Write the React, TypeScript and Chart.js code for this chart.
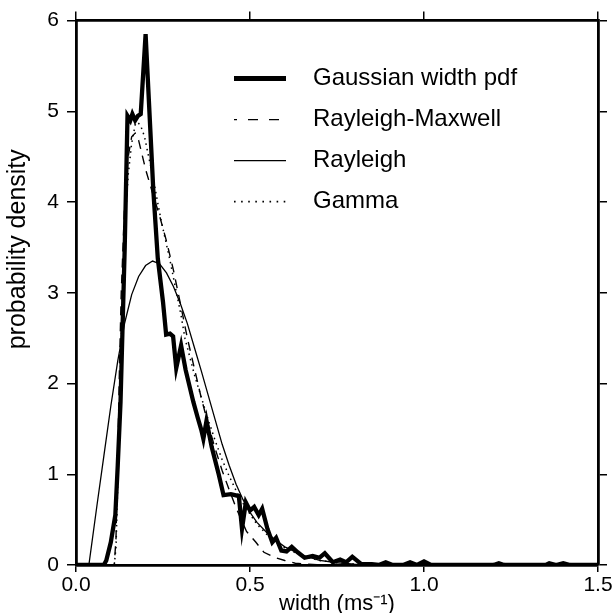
import React, { useEffect, useRef } from "react";
import { Chart, registerables } from "chart.js";

Chart.register(...registerables);

const FONT = "'Liberation Sans', Arial, Helvetica, sans-serif";

// Axis ranges / ticks
const xMin = 0;
const xMax = 1.5;
const xStep = 0.5;
const yMin = 0;
const yMax = 6;
const yStep = 1;

const xTitle = "width (ms\u207B\u00B9)";
const yTitle = "probability density";

const seriesNames = ["Gaussian width pdf", "Rayleigh-Maxwell", "Rayleigh", "Gamma"];

// Gaussian width pdf (thick, jagged)
const gaussX = [0, 0.08, 0.087, 0.1, 0.113, 0.12, 0.128, 0.14, 0.148, 0.156, 0.162, 0.17, 0.178, 0.186, 0.2, 0.222, 0.235, 0.25, 0.259, 0.27, 0.279, 0.288, 0.302, 0.315, 0.337, 0.35, 0.36, 0.366, 0.375, 0.39, 0.41, 0.424, 0.445, 0.468, 0.477, 0.488, 0.5, 0.512, 0.525, 0.535, 0.55, 0.564, 0.575, 0.59, 0.605, 0.62, 0.637, 0.657, 0.68, 0.7, 0.715, 0.738, 0.759, 0.776, 0.794, 0.82, 0.85, 0.87, 0.89, 0.91, 0.94, 0.96, 0.98, 1.0, 1.02, 1.2, 1.215, 1.23, 1.35, 1.36, 1.38, 1.4, 1.42, 1.5];
const gaussY = [0, 0, 0.05, 0.25, 0.55, 1.1, 1.8, 3.5, 4.95, 4.9, 4.97, 4.9, 4.95, 4.97, 5.85, 4.14, 3.38, 2.9, 2.54, 2.55, 2.52, 2.17, 2.42, 2.15, 1.8, 1.62, 1.49, 1.39, 1.59, 1.3, 1.0, 0.77, 0.78, 0.76, 0.4, 0.69, 0.6, 0.64, 0.55, 0.62, 0.4, 0.25, 0.3, 0.16, 0.15, 0.2, 0.14, 0.08, 0.1, 0.08, 0.13, 0.03, 0.06, 0.03, 0.09, 0.01, 0.01, 0, 0.03, 0, 0, 0.03, 0, 0.04, 0, 0, 0.02, 0, 0, 0.02, 0, 0.02, 0, 0];

// Rayleigh-Maxwell (dashed)
const rmX = [0, 0.11, 0.115, 0.12, 0.125, 0.13, 0.14, 0.15, 0.16, 0.17, 0.18, 0.19, 0.2, 0.22, 0.24, 0.26, 0.28, 0.3, 0.32, 0.34, 0.36, 0.38, 0.4, 0.42, 0.44, 0.46, 0.49, 0.517, 0.54, 0.57, 0.6, 0.63, 0.7, 1.5];
const rmY = [0, 0, 0.3, 1.2, 2.2, 3.0, 4.0, 4.5, 4.72, 4.76, 4.68, 4.52, 4.36, 4.1, 3.85, 3.57, 3.25, 2.88, 2.5, 2.17, 1.84, 1.55, 1.28, 1.04, 0.83, 0.63, 0.37, 0.25, 0.14, 0.085, 0.05, 0.02, 0, 0];

// Rayleigh (thin solid)
const rayX = [0, 0.037, 0.06, 0.08, 0.1, 0.12, 0.14, 0.16, 0.18, 0.2, 0.22, 0.24, 0.26, 0.28, 0.3, 0.32, 0.34, 0.36, 0.38, 0.4, 0.42, 0.44, 0.46, 0.48, 0.5, 0.52, 0.55, 0.575, 0.6, 0.65, 0.7, 0.75, 0.8, 0.9, 1.5];
const rayY = [0, 0, 0.65, 1.2, 1.75, 2.25, 2.67, 2.98, 3.18, 3.3, 3.35, 3.32, 3.22, 3.07, 2.88, 2.66, 2.4, 2.14, 1.87, 1.6, 1.33, 1.1, 0.89, 0.72, 0.58, 0.47, 0.35, 0.27, 0.2, 0.11, 0.05, 0.025, 0.01, 0, 0];

// Gamma (dotted)
const gamX = [0, 0.11, 0.115, 0.12, 0.13, 0.14, 0.15, 0.16, 0.17, 0.177, 0.186, 0.197, 0.206, 0.22, 0.235, 0.245, 0.27, 0.284, 0.302, 0.313, 0.34, 0.36, 0.38, 0.4, 0.42, 0.44, 0.46, 0.48, 0.5, 0.52, 0.55, 0.6, 0.65, 0.7, 0.75, 0.8, 0.9, 1.5];
const gamY = [0, 0, 0.2, 0.9, 2.5, 3.7, 4.3, 4.65, 4.85, 4.88, 4.84, 4.72, 4.55, 4.3, 3.99, 3.79, 3.36, 3.09, 2.75, 2.5, 2.1, 1.85, 1.6, 1.37, 1.16, 0.98, 0.82, 0.68, 0.56, 0.45, 0.33, 0.19, 0.1, 0.05, 0.025, 0.01, 0, 0];

const pairs = (xs: number[], ys: number[]) => xs.map((x, i) => ({ x, y: ys[i] }));

const legendPlugin = {
  id: "inlineLegend",
  afterDatasetsDraw(chart: any) {
    const ctx = chart.ctx as CanvasRenderingContext2D;
    const { left, top, bottom } = chart.chartArea;
    ctx.save();
    ctx.font = `24px ${FONT}`;
    ctx.fillStyle = "#000";
    ctx.textBaseline = "middle";
    chart.data.datasets.forEach((ds: any, i: number) => {
      const y = top + 58 + i * 41;
      const x0 = left + 158;
      const x1 = left + 210;
      ctx.beginPath();
      ctx.strokeStyle = "#000";
      ctx.lineWidth = ds.legendLineWidth;
      ctx.setLineDash(ds.legendDash || []);
      ctx.lineDashOffset = ds.legendDashOffset || 0;
      ctx.moveTo(x0, y);
      ctx.lineTo(x1, y);
      ctx.stroke();
      ctx.setLineDash([]);
      ctx.fillText(ds.label, left + 237, y);
    });
    // y-axis title
    ctx.save();
    ctx.font = `25px ${FONT}`;
    ctx.textAlign = "center";
    ctx.textBaseline = "middle";
    ctx.translate(18, top + (bottom - top) * 0.42);
    ctx.rotate(-Math.PI / 2);
    ctx.fillText(yTitle, 0, 0);
    ctx.restore();
    ctx.restore();
  },
};

export default function App() {
  const ref = useRef<HTMLCanvasElement | null>(null);

  useEffect(() => {
    if (!ref.current) return;
    const tickFont = { family: FONT, size: 21 };
    const mkGrid = (len: number) => ({
      display: true,
      drawOnChartArea: false,
      drawTicks: true,
      tickLength: len,
      color: "#000",
      lineWidth: 1.5,
    });
    const borderOpts = { display: true, color: "#000", width: 2.8 };
    const chart = new Chart(ref.current, {
      type: "line",
      data: {
        datasets: [
          {
            label: seriesNames[0],
            data: pairs(gaussX, gaussY),
            borderColor: "#000",
            borderWidth: 4.3,
            pointRadius: 0,
            tension: 0,
            legendLineWidth: 5,
          } as any,
          {
            label: seriesNames[1],
            data: pairs(rmX, rmY),
            borderColor: "#000",
            borderWidth: 1.4,
            borderDash: [9, 7],
            pointRadius: 0,
            tension: 0,
            legendLineWidth: 1.4,
            legendDash: [10, 11],
            legendDashOffset: 7,
          } as any,
          {
            label: seriesNames[2],
            data: pairs(rayX, rayY),
            borderColor: "#000",
            borderWidth: 1.3,
            pointRadius: 0,
            tension: 0,
            legendLineWidth: 1.4,
          } as any,
          {
            label: seriesNames[3],
            data: pairs(gamX, gamY),
            borderColor: "#000",
            borderWidth: 1.5,
            borderDash: [1.5, 4],
            pointRadius: 0,
            tension: 0,
            legendLineWidth: 1.6,
            legendDash: [1.6, 5.5],
          } as any,
        ],
      },
      options: {
        responsive: false,
        animation: false,
        layout: { padding: 0 },
        plugins: { legend: { display: false }, tooltip: { enabled: false } },
        scales: {
          x: {
            type: "linear",
            position: "bottom",
            min: xMin,
            max: xMax,
            ticks: {
              stepSize: xStep,
              color: "#000",
              font: tickFont,
              padding: 1,
              maxRotation: 0,
              callback: (v: any) => Number(v).toFixed(1),
            },
            grid: mkGrid(7),
            border: borderOpts,
            title: {
              display: true,
              text: xTitle,
              color: "#000",
              font: { family: FONT, size: 22, lineHeight: 0.8 },
              padding: { top: 0, bottom: 0 },
            },
            afterFit: (s: any) => {
              s.height = 48;
            },
          },
          x2: {
            type: "linear",
            position: "top",
            min: xMin,
            max: xMax,
            ticks: { stepSize: xStep, display: false },
            grid: mkGrid(9),
            border: borderOpts,
            afterFit: (s: any) => {
              s.height = 14;
            },
          },
          y: {
            type: "linear",
            position: "left",
            min: yMin,
            max: yMax,
            ticks: { stepSize: yStep, color: "#000", font: tickFont, padding: 8 },
            grid: mkGrid(9),
            border: borderOpts,
            afterFit: (s: any) => {
              s.width = 76;
            },
          },
          y2: {
            type: "linear",
            position: "right",
            min: yMin,
            max: yMax,
            ticks: { stepSize: yStep, display: false },
            grid: mkGrid(9),
            border: borderOpts,
            afterFit: (s: any) => {
              s.width = 17;
            },
          },
        },
      } as any,
      plugins: [legendPlugin],
    });
    return () => chart.destroy();
  }, []);

  return (
    <div style={{ position: "fixed", left: 0, top: 0, width: 615, height: 613, background: "#fff" }}>
      <canvas ref={ref} width={615} height={613} />
    </div>
  );
}
